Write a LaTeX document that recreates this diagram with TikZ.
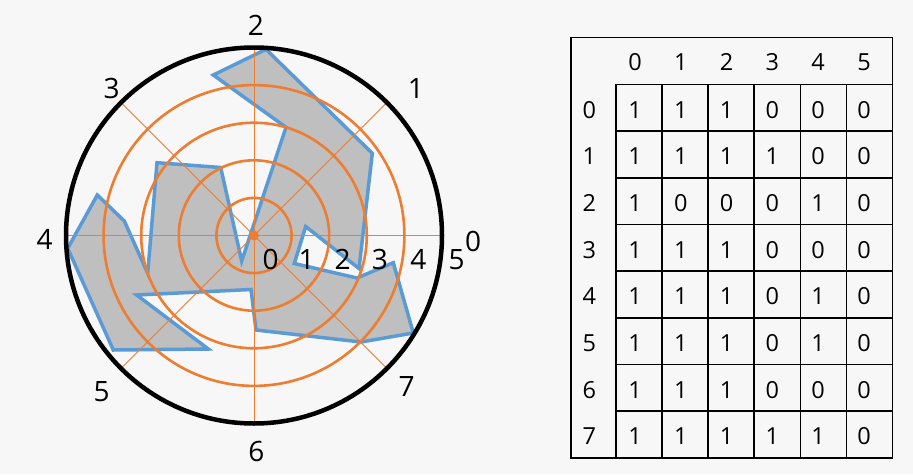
\documentclass[tikz,border=0pt]{standalone}
\usepackage{fontspec}
\setmainfont{Open Sans}
\definecolor{bgc}{RGB}{248,247,248}
\definecolor{shapegray}{RGB}{191,191,191}
\definecolor{shapeblue}{RGB}{91,155,213}
\definecolor{gridorange}{RGB}{237,125,49}
\begin{document}
\begin{tikzpicture}[x=1pt,y=-1pt,
  polarlabel/.style={anchor=base,inner sep=0pt,font=\fontsize{28}{30}\selectfont},
  tablabel/.style={anchor=base,inner sep=0pt,font=\fontsize{23.5}{26}\selectfont},
  ring/.style={draw=gridorange,line width=2.6pt},
  spoke/.style={draw=gridorange,line width=1pt},
  tabline/.style={draw=black,line width=1.6pt}]
\fill[bgc] (0,0) rectangle (913,474);
\useasboundingbox (0,0) rectangle (913,474);
\coordinate (c) at (254,235.5);
% shape
\draw[fill=shapegray,draw=shapeblue,line width=3.5pt]
 (266,49.3) -- (372.3,153.3) -- (359,268.5) -- (305.7,226.5) -- (294.3,263.5)
 -- (357,278) -- (393.3,262.7) -- (413.3,333) -- (361,342) -- (256,330)
 -- (251,289.5) -- (136.7,295) -- (208.3,349) -- (113.3,350) -- (67.7,248.3)
 -- (97.3,195) -- (124.3,221) -- (147.7,273.3) -- (157,162.7) -- (220.7,167.5)
 -- (241.7,261) -- (286,127.3) -- (213.3,75) -- cycle;
% spokes
\foreach \a in {0,45,...,315}
  \draw[spoke] (c) -- ++(\a:188pt);
% rings
\foreach \r in {1,2,3,4}
  \draw[ring] (c) circle[radius=\r*37.6pt];
\fill[gridorange] (c) circle[radius=5pt];
\draw[black,line width=4.5pt] (c) circle[radius=188pt];
% angle labels
\node[polarlabel] (a0) at (473,251.7) {0};
\node[polarlabel] (a1) at (416,98.3) {1};
\node[polarlabel] (a2) at (256,35) {2};
\node[polarlabel] (a3) at (111.7,98.3) {3};
\node[polarlabel] (a4) at (44.7,249.3) {4};
\node[polarlabel] (a5) at (101.7,401.7) {5};
\node[polarlabel] (a6) at (256.3,461) {6};
\node[polarlabel] (a7) at (406.7,396.7) {7};
% radial labels
\foreach \k/\x in {0/270.7,1/306.7,2/342.7,3/380,4/418.3,5/456.5}
  \node[polarlabel] (r\k) at (\x,269.5) {\k};
% table
\draw[tabline] (571,37.3) rectangle (892.3,457.7);
\foreach \x in {616,662.1,708.2,754.2,800.3,846.3}
  \draw[tabline] (\x,84.3) -- (\x,457.7);
\foreach \y in {84.3,131,177.7,224.3,271,317.7,364.3,411}
  \draw[tabline] (616,\y) -- (892.3,\y);
\foreach \j in {0,...,5}
  \node[tablabel] (h\j) at (635+45.8*\j,70.7) {\j};
\foreach \i in {0,...,7}
  \node[tablabel] (v\i) at (589.3,118.3+46.67*\i) {\i};
\foreach \row [count=\i from 0] in {{1,1,1,0,0,0},{1,1,1,1,0,0},{1,0,0,0,1,0},{1,1,1,0,0,0},{1,1,1,0,1,0},{1,1,1,0,1,0},{1,1,1,0,0,0},{1,1,1,1,1,0}}
  \foreach \v [count=\j from 0] in \row
    \node[tablabel] (m\i-\j) at (635+45.8*\j,118.3+46.67*\i) {\v};
\end{tikzpicture}
\end{document}
